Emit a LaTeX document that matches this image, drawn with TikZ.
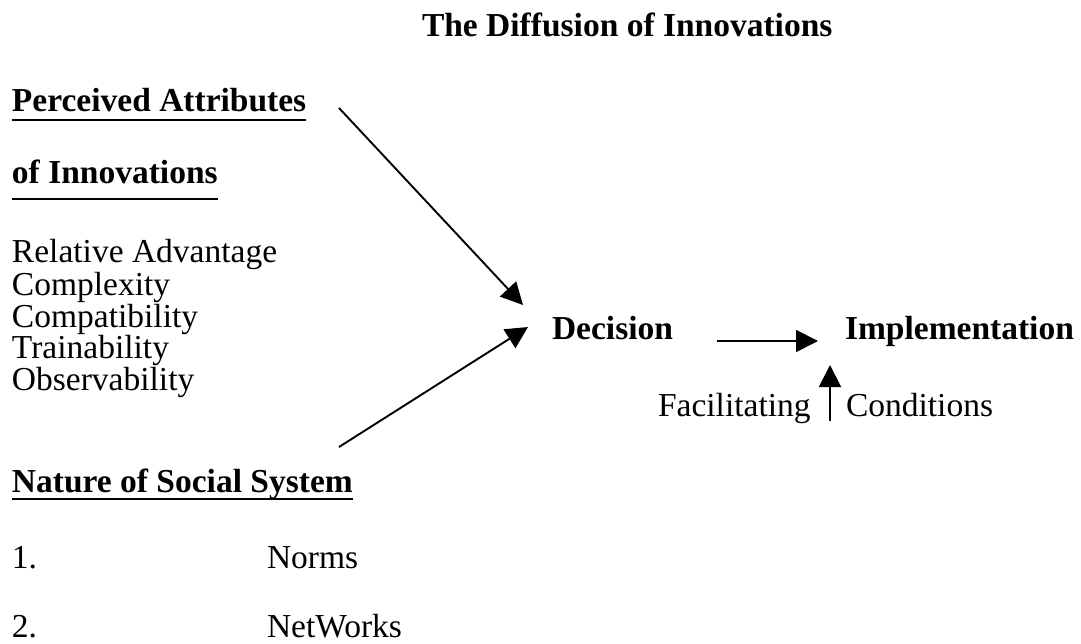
\documentclass[tikz,border=0pt]{standalone}
\usepackage{fontspec}
\setmainfont{Liberation Serif}
\usetikzlibrary{arrows.meta,calc}
\begin{document}
\begin{tikzpicture}[x=1pt,y=-1pt,
  txt/.style={anchor=base west,inner sep=0pt,outer sep=0pt,font=\fontsize{33.5}{36}\selectfont},
  bold/.style={anchor=base west,inner sep=0pt,outer sep=0pt,font=\fontsize{33.5}{36}\selectfont\bfseries},
  conn/.style={line width=1.9pt,-{Triangle[length=22pt,width=22pt]}},
  uline/.style={line width=2pt}]
\useasboundingbox (0,0) rectangle (1081,644);
% title
\node[bold] (title) at (422,37) {The Diffusion of Innovations};
% perceived attributes
\node[bold] (pa1) at (12,112) {Perceived Attributes};
\node[bold] (pa2) at (12,184) {of Innovations};
\draw[uline] ($(pa1.base west)+(0,8)$) -- ($(pa1.base east)+(0,8)$);
\draw[uline] ($(pa2.base west)+(0,15)$) -- ($(pa2.base east)+(0,15)$);
\node[txt] (l1) at (12,263) {Relative Advantage};
\node[txt] (l2) at (12,295) {Complexity};
\node[txt] (l3) at (12,327) {Compatibility};
\node[txt] (l4) at (12,358) {Trainability};
\node[txt] (l5) at (12,390) {Observability};
% social system
\node[bold] (ns) at (12,492) {Nature of Social System};
\draw[uline] ($(ns.base west)+(0,7)$) -- ($(ns.base east)+(0,7)$);
\node[txt] (n1) at (12,568) {1.};
\node[txt] (norms) at (267,568) {Norms};
\node[txt] (n2) at (12,637) {2.};
\node[txt] (nets) at (267,637) {NetWorks};
% decision / implementation
\node[bold] (dec) at (552,339) {Decision};
\node[bold] (imp) at (845,339) {Implementation};
\node[txt] (fac) at (658,416) {Facilitating};
\node[txt] (cond) at (846,416) {Conditions};
% connector ends
\coordinate (a1s) at (339,108);
\coordinate (a1e) at (523,305);
\coordinate (a2s) at (339,447);
\coordinate (a2e) at (528,327);
\coordinate (a3s) at (717,341);
\coordinate (a3e) at (818,341);
\coordinate (a4s) at (830,421);
\coordinate (a4e) at (830,365);
\draw[conn] (a1s) -- (a1e);
\draw[conn] (a2s) -- (a2e);
\draw[conn] (a3s) -- (a3e);
\draw[conn] (a4s) -- (a4e);
\end{tikzpicture}
\end{document}
